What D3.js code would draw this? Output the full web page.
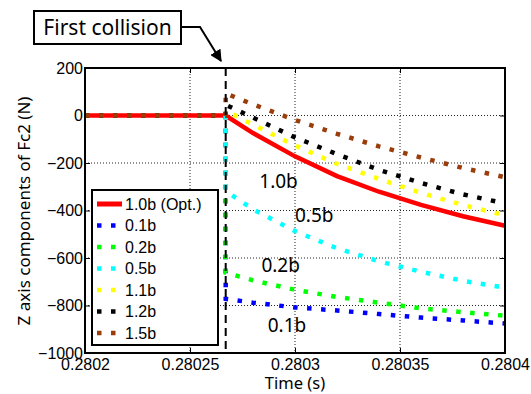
<!DOCTYPE html>
<html>
<head>
<meta charset="utf-8">
<script src="https://cdn.jsdelivr.net/npm/d3@7"></script>
<style>
  body { margin: 0; background: #fff; }
  svg { display: block; }
</style>
</head>
<body>
<div id="chart"></div>
<script>
// time axis (s); first collision at 0.280267 -> value listed twice (before / after the jump)
const times = [0.2802, 0.280267, 0.280267, 0.28028, 0.2803, 0.28032, 0.28034, 0.28036, 0.28038, 0.2804];

const opt10 = [0, 0, 0, -74, -172, -255, -321, -376, -424, -464];
const b01 = [0, 0, -772, -788, -808, -821, -836, -851, -863, -876];
const b02 = [0, 0, -662, -694, -734, -764, -788, -812, -828, -843];
const b05 = [0, 0, -318, -395, -487, -559, -614, -658, -696, -725];
const b11 = [0, 0, 20, -38, -126, -204, -267, -326, -377, -420];
const b12 = [0, 0, 45, -9, -92, -163, -229, -284, -332, -370];
const b15 = [0, 0, 93, 47, -19, -77, -130, -177, -221, -260];

const seriesNames = ["1.0b (Opt.)", "0.1b", "0.2b", "0.5b", "1.1b", "1.2b", "1.5b"];
const seriesValues = [opt10, b01, b02, b05, b11, b12, b15];
const seriesColors = ["#ff0000", "#0000ff", "#00ff00", "#00ffff", "#ffff00", "#000000", "#9a3d0a"];

const collisionTime = 0.280267;

const xTicks = [0.2802, 0.28025, 0.2803, 0.28035, 0.2804];
const xTickLabels = ["0.2802", "0.28025", "0.2803", "0.28035", "0.2804"];
const yTicks = [200, 0, -200, -400, -600, -800, -1000];
const yTickLabels = ["200", "0", "\u2212200", "\u2212400", "\u2212600", "\u2212800", "\u22121000"];

// curve labels in the plot
const curveLabels = [
  { text: "1.0b", t: 0.280283, v: -305 },
  { text: "0.5b", t: 0.2803, v: -448 },
  { text: "0.2b", t: 0.280284, v: -660 },
  { text: "0.1b", t: 0.280287, v: -910 }
];

const svgWidth = 531, svgHeight = 394;
const margin = { top: 68, right: 26, bottom: 41, left: 85 };
const width = svgWidth - margin.left - margin.right;
const height = svgHeight - margin.top - margin.bottom;

const svg = d3.select("#chart")
  .append("svg")
  .attr("width", svgWidth)
  .attr("height", svgHeight);

const g = svg.append("g")
  .attr("transform", `translate(${margin.left},${margin.top})`);

const x = d3.scaleLinear().domain([0.2802, 0.2804]).range([0, width]);
const y = d3.scaleLinear().domain([-1000, 200]).range([height, 0]);

// dotted grid
g.append("g")
  .selectAll("line")
  .data(xTicks.slice(1, -1))
  .enter().append("line")
  .attr("x1", d => x(d)).attr("x2", d => x(d))
  .attr("y1", 0).attr("y2", height)
  .attr("stroke", "#222").attr("stroke-width", 1).attr("stroke-dasharray", "1,2");

g.append("g")
  .selectAll("line")
  .data(yTicks.slice(1, -1))
  .enter().append("line")
  .attr("x1", 0).attr("x2", width)
  .attr("y1", d => y(d)).attr("y2", d => y(d))
  .attr("stroke", "#222").attr("stroke-width", 1).attr("stroke-dasharray", "1,2");

// axes (inward ticks, box)
const fontTicks = "'Liberation Sans', Arial, sans-serif";

const xAxis = g.append("g")
  .attr("transform", `translate(0,${height})`)
  .call(d3.axisBottom(x).tickValues(xTicks).tickSizeInner(-5).tickSizeOuter(0).tickPadding(7)
    .tickFormat((d, i) => xTickLabels[i]));
xAxis.select(".domain").remove();
xAxis.selectAll("text").attr("font-family", fontTicks).attr("font-size", 16).attr("fill", "#000").attr("dy", "0.65em");

const yAxis = g.append("g")
  .call(d3.axisLeft(y).tickValues(yTicks).tickSizeInner(-5).tickSizeOuter(0).tickPadding(2)
    .tickFormat((d, i) => yTickLabels[i]));
yAxis.select(".domain").remove();
yAxis.selectAll("text").attr("font-family", fontTicks).attr("font-size", 16).attr("fill", "#000");

g.append("g").call(d3.axisTop(x).tickValues(xTicks).tickSizeInner(-5).tickSizeOuter(0).tickFormat(""))
  .select(".domain").remove();
g.append("g").attr("transform", `translate(${width},0)`)
  .call(d3.axisRight(y).tickValues(yTicks).tickSizeInner(-5).tickSizeOuter(0).tickFormat(""))
  .select(".domain").remove();

// series
const line = d3.line()
  .x(d => x(d[0]))
  .y(d => y(d[1]));

seriesValues.forEach((vals, i) => {
  const pts = times.map((t, k) => [t, vals[k]]);
  g.append("path")
    .datum(pts)
    .attr("fill", "none")
    .attr("stroke", seriesColors[i])
    .attr("stroke-width", 4.5)
    .attr("stroke-dasharray", i === 0 ? null : "4.5,9.5")
    .attr("d", line);
});

// first collision dashed line
g.append("line")
  .attr("x1", x(collisionTime)).attr("x2", x(collisionTime))
  .attr("y1", 0).attr("y2", height)
  .attr("stroke", "#000").attr("stroke-width", 2).attr("stroke-dasharray", "8,5");

// plot box
g.append("rect")
  .attr("width", width).attr("height", height)
  .attr("fill", "none").attr("stroke", "#000").attr("stroke-width", 2);

// curve labels
const fontText = "'Noto Sans', 'Open Sans', sans-serif";
g.selectAll("text.curve")
  .data(curveLabels)
  .enter().append("text")
  .attr("class", "curve")
  .attr("x", d => x(d.t))
  .attr("y", d => y(d.v))
  .attr("font-family", fontText)
  .attr("font-size", 19)
  .attr("fill", "#000")
  .text(d => d.text);

// legend
const legend = g.append("g").attr("transform", "translate(7,122)");
legend.append("rect")
  .attr("width", 126).attr("height", 155)
  .attr("fill", "#fff").attr("stroke", "#000").attr("stroke-width", 2);

seriesNames.forEach((name, i) => {
  const ly = 14 + i * 21.5;
  legend.append("line")
    .attr("x1", 5).attr("x2", i === 0 ? 30 : 29)
    .attr("y1", ly).attr("y2", ly)
    .attr("stroke", seriesColors[i])
    .attr("stroke-width", i === 0 ? 5 : 4.5)
    .attr("stroke-dasharray", i === 0 ? null : "4.5,9.5");
  legend.append("text")
    .attr("x", 33).attr("y", ly)
    .attr("dy", "0.36em")
    .attr("font-family", fontTicks)
    .attr("font-size", 16)
    .attr("fill", "#000")
    .text(name);
});

// axis titles
svg.append("text")
  .attr("transform", "translate(30,211) rotate(-90)")
  .attr("text-anchor", "middle")
  .attr("font-family", fontText)
  .attr("font-size", 17)
  .attr("fill", "#000")
  .text("Z axis components of Fc2 (N)");

svg.append("text")
  .attr("x", margin.left + x(0.2803))
  .attr("y", 389)
  .attr("text-anchor", "middle")
  .attr("font-family", fontText)
  .attr("font-size", 16.5)
  .attr("fill", "#000")
  .text("Time (s)");

// "First collision" callout
svg.append("defs").append("marker")
  .attr("id", "arrow")
  .attr("viewBox", "0 0 10 10")
  .attr("refX", 9).attr("refY", 5)
  .attr("markerWidth", 6).attr("markerHeight", 6)
  .attr("markerUnits", "strokeWidth")
  .attr("orient", "auto")
  .append("path")
  .attr("d", "M0,0 L10,5 L0,10 Z")
  .attr("fill", "#000");

svg.append("rect")
  .attr("x", 34).attr("y", 11)
  .attr("width", 147).attr("height", 33)
  .attr("fill", "#fff").attr("stroke", "#000").attr("stroke-width", 2);

svg.append("text")
  .attr("x", 107.5).attr("y", 35)
  .attr("text-anchor", "middle")
  .attr("font-family", fontText)
  .attr("font-size", 21)
  .attr("fill", "#000")
  .text("First collision");

svg.append("path")
  .attr("d", "M181,27 L200,27 L221,61")
  .attr("fill", "none")
  .attr("stroke", "#000")
  .attr("stroke-width", 2)
  .attr("marker-end", "url(#arrow)");
</script>
</body>
</html>
